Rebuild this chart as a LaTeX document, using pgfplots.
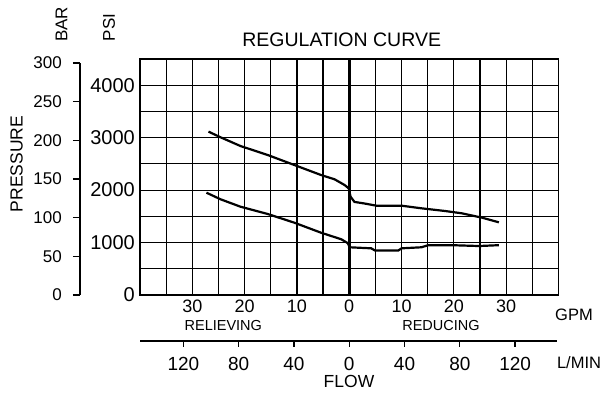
\documentclass[border=0pt]{standalone}
\usepackage{fontspec}
\setmainfont{Liberation Sans}
\usepackage{pgfplots}
\pgfplotsset{compat=1.18}
\newcommand{\fs}[1]{\fontsize{#1}{#1}\selectfont}
\begin{document}
\begin{tikzpicture}
\useasboundingbox (0,0) rectangle (604pt,392pt);
% main grid axis (GPM / PSI)
\begin{axis}[
  at={(140pt,97pt)}, anchor=south west,
  scale only axis, width=418.5pt, height=236pt,
  xmin=-40, xmax=40, ymin=0, ymax=4500,
  xtick={-40,-35,...,40},
  xticklabels={{},{},30,{},20,{},10,{},0,{},10,{},20,{},30,{},{}},
  ytick={0,500,...,4500},
  yticklabels={0,{},1000,{},2000,{},3000,{},4000,{}},
  grid=major,
  major grid style={black, line width=1.2pt},
  axis line style={black, line width=1.3pt},
  major tick length=0pt,
  xticklabel style={font=\fs{18}, anchor=base, inner sep=0pt, yshift=-17pt},
  yticklabel style={font=\fs{20}, anchor=east, inner sep=0pt, xshift=-5pt},
  /pgf/number format/assume math mode=true,
  clip=false,
  unbounded coords=jump,
]
\addplot[black, line width=3pt] coordinates {(0,0) (0,4500)};
% upper curve
\addplot[black, line width=2.2pt] coordinates {
  (-26.9,3115) (-24.6,3007) (-20.8,2841) (-15.6,2670) (-10.5,2479)
  (-5.4,2288) (-2.8,2206) (-0.9,2098) (-0.1,2034) (0.25,1875)
  (1.0,1775) (2.9,1745) (5.2,1703) (10,1703) (13.8,1653)
  (18.3,1602) (21.5,1558) (25.4,1474) (28.6,1386)};
% lower curve
\addplot[black, line width=2.2pt] coordinates {
  (-27.3,1951) (-24.6,1825) (-20.8,1684) (-15.6,1545) (-10.5,1379)
  (-5.4,1188) (-1.5,1062) (-0.25,986) (0.06,910) (4.2,890)
  (4.9,850) (9.4,850) (10,890) (13.8,910) (15.1,950)
  (19.6,950) (24.8,934) (28.6,950)};
% L/MIN scale line and ticks (x in GPM = L/min / 3.785)
\addplot[black, line width=1.3pt] coordinates {(-40,-877) (39.8,-877)};
\addplot[black, line width=1.3pt] coordinates {
  (-31.70,-877) (-31.70,-990) (nan,nan)
  (-21.13,-877) (-21.13,-990) (nan,nan)
  (-10.57,-877) (-10.57,-990) (nan,nan)
  (0,-877) (0,-990) (nan,nan)
  (10.57,-877) (10.57,-990) (nan,nan)
  (21.13,-877) (21.13,-990) (nan,nan)
  (31.70,-877) (31.70,-990)};
\end{axis}
% BAR axis
\begin{axis}[
  at={(80pt,97pt)}, anchor=south west,
  scale only axis, width=10pt, height=232pt,
  xmin=0, xmax=1, ymin=0, ymax=300,
  hide x axis,
  axis y line*=left,
  ytick={0,50,...,300},
  tick align=outside,
  major tick length=7pt,
  axis line style={black, line width=1.3pt},
  every tick/.style={black, line width=1.3pt},
  yticklabel style={font=\fs{17}, anchor=east, inner sep=0pt, xshift=-11pt},
  /pgf/number format/assume math mode=true,
]
\addplot[draw=none] coordinates {(0,0) (1,300)};
\end{axis}
% L/MIN labels
\begin{axis}[
  at={(140pt,45pt)}, anchor=south west,
  scale only axis, width=418.5pt, height=6pt,
  xmin=-151.4, xmax=151.4, ymin=0, ymax=1,
  axis line style={draw=none},
  ytick=\empty,
  xtick={-120,-80,...,120},
  xticklabels={120,80,40,0,40,80,120},
  major tick length=0pt,
  xticklabel style={font=\fs{19}, anchor=base, inner sep=0pt, yshift=-23pt},
  /pgf/number format/assume math mode=true,
]
\addplot[draw=none] coordinates {(-151.4,0) (151.4,1)};
\end{axis}
% texts
\node[font=\fs{19.5}, anchor=base] at (341.7pt,345pt) {REGULATION CURVE};
\node[font=\fs{17}, rotate=90] at (61.5pt,367.5pt) {BAR};
\node[font=\fs{17}, rotate=90] at (109pt,364.5pt) {PSI};
\node[font=\fs{17.5}, rotate=90] at (16.7pt,228pt) {PRESSURE};
\node[font=\fs{16.5}, anchor=base] at (574pt,72pt) {GPM};
\node[font=\fs{16.5}, anchor=base] at (579pt,24pt) {L/MIN};
\node[font=\fs{14.5}, anchor=base] at (223.3pt,62pt) {RELIEVING};
\node[font=\fs{14.5}, anchor=base] at (441pt,62pt) {REDUCING};
\node[font=\fs{17.5}, anchor=base] at (349pt,5pt) {FLOW};
\end{tikzpicture}
\end{document}
